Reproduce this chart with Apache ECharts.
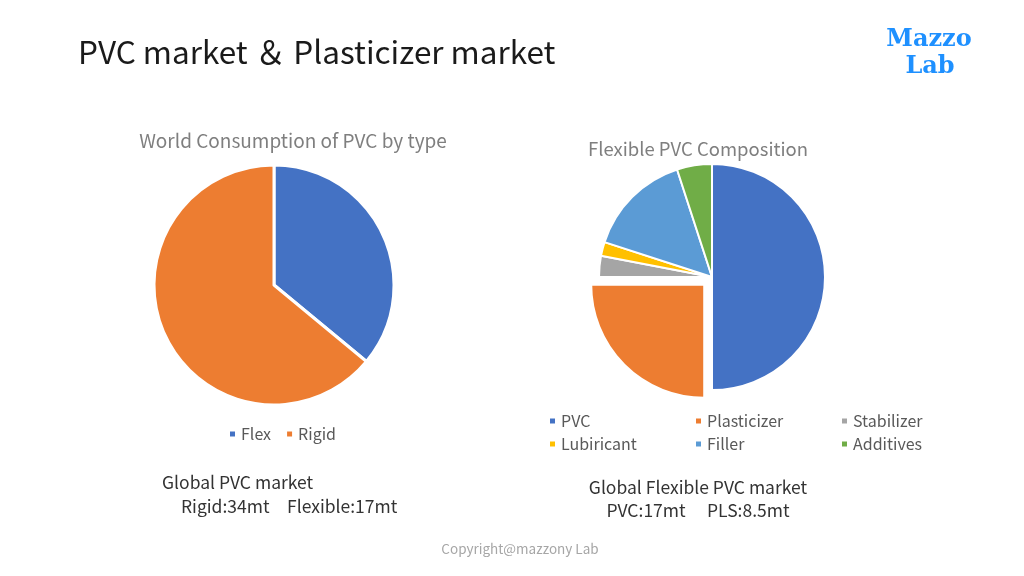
<!DOCTYPE html>
<html>
<head>
<meta charset="utf-8">
<script src="https://cdn.jsdelivr.net/npm/echarts@6/dist/echarts.min.js"></script>
<style>
html,body{margin:0;padding:0;background:#fff;}
#chart{width:1024px;height:576px;}
</style>
</head>
<body>
<div id="chart"></div>
<script>
// World consumption of PVC by type (share, %)
const typeNames = ['Flex', 'Rigid'];
const typeValues = [36, 64];

// Flexible PVC composition (share, %)
const compNames = ['PVC', 'Plasticizer', 'Stabilizer', 'Lubiricant', 'Filler', 'Additives'];
const compValues = [50, 25, 3, 2, 15, 5];

const typeColors = ['#4472C4', '#ED7D31'];
const compColors = ['#4472C4', '#ED7D31', '#A5A5A5', '#FFC000', '#5B9BD5', '#70AD47'];

const FONT = '"Noto Sans CJK JP", "Noto Sans", sans-serif';

const chart = echarts.init(document.getElementById('chart'));

const legendText = { color: '#595959', fontSize: 16, fontFamily: FONT };

const option = {
  backgroundColor: '#ffffff',
  animation: false,
  legend: [
    { data: typeNames, left: 223, top: 421, itemWidth: 7, itemHeight: 7, icon: 'rect', itemGap: 14,
      textStyle: legendText, selectedMode: false },
    { data: [compNames[0], compNames[3]], orient: 'vertical', left: 543, top: 408, itemWidth: 7, itemHeight: 7,
      icon: 'rect', itemGap: 7, textStyle: legendText, selectedMode: false },
    { data: [compNames[1], compNames[4]], orient: 'vertical', left: 689, top: 408, itemWidth: 7, itemHeight: 7,
      icon: 'rect', itemGap: 7, textStyle: legendText, selectedMode: false },
    { data: [compNames[2], compNames[5]], orient: 'vertical', left: 835, top: 408, itemWidth: 7, itemHeight: 7,
      icon: 'rect', itemGap: 7, textStyle: legendText, selectedMode: false }
  ],
  series: [
    {
      type: 'pie',
      center: [274, 285],
      radius: [0, 120],
      startAngle: 90,
      clockwise: true,
      label: { show: false },
      labelLine: { show: false },
      emphasis: { disabled: true },
      itemStyle: { borderColor: '#ffffff', borderWidth: 3 },
      data: typeNames.map((n, i) => ({ name: n, value: typeValues[i], itemStyle: { color: typeColors[i] } }))
    },
    {
      type: 'pie',
      center: [712, 277],
      radius: [0, 113],
      startAngle: 90,
      clockwise: true,
      selectedMode: 'single',
      selectedOffset: 11,
      label: { show: false },
      labelLine: { show: false },
      emphasis: { disabled: true },
      itemStyle: { borderColor: '#ffffff', borderWidth: 2 },
      select: { itemStyle: { borderColor: '#ffffff', borderWidth: 2 } },
      data: compNames.map((n, i) => ({
        name: n, value: compValues[i], selected: i === 1,
        itemStyle: { color: compColors[i] },
        select: { itemStyle: { color: compColors[i] } }
      }))
    }
  ],
  graphic: [
    { type: 'text', left: 78, top: 36, style: { text: 'PVC market \uFF06 Plasticizer market', fill: '#1a1a1a', font: '31.5px ' + FONT } },
    { type: 'text', x: 929, y: 40, style: { text: 'Mazzo', fill: '#1E90FF', font: 'bold 24px "DejaVu Serif", serif', textAlign: 'center', textVerticalAlign: 'middle' } },
    { type: 'text', x: 930, y: 67, style: { text: 'Lab', fill: '#1E90FF', font: 'bold 24px "DejaVu Serif", serif', textAlign: 'center', textVerticalAlign: 'middle' } },
    { type: 'text', x: 293, y: 141, style: { text: 'World Consumption of PVC by type', fill: '#7f7f7f', font: '19px ' + FONT, textAlign: 'center', textVerticalAlign: 'middle' } },
    { type: 'text', x: 698, y: 149, style: { text: 'Flexible PVC Composition', fill: '#7f7f7f', font: '18.5px ' + FONT, textAlign: 'center', textVerticalAlign: 'middle' } },
    { type: 'text', x: 162, y: 482, style: { text: 'Global PVC market', fill: '#333333', font: '17.5px ' + FONT, textVerticalAlign: 'middle' } },
    { type: 'text', x: 181, y: 506, style: { text: 'Rigid:34mt\u3000Flexible:17mt', fill: '#333333', font: '17.5px ' + FONT, textVerticalAlign: 'middle' } },
    { type: 'text', x: 698, y: 487, style: { text: 'Global Flexible PVC market', fill: '#333333', font: '17.5px ' + FONT, textAlign: 'center', textVerticalAlign: 'middle' } },
    { type: 'text', x: 698, y: 510, style: { text: 'PVC:17mt\u3000 PLS:8.5mt', fill: '#333333', font: '17.5px ' + FONT, textAlign: 'center', textVerticalAlign: 'middle' } },
    { type: 'text', x: 520, y: 549, style: { text: 'Copyright@mazzony Lab', fill: '#a6a6a6', font: '13.5px ' + FONT, textAlign: 'center', textVerticalAlign: 'middle' } }
  ]
};
chart.setOption(option);
</script>
</body>
</html>
